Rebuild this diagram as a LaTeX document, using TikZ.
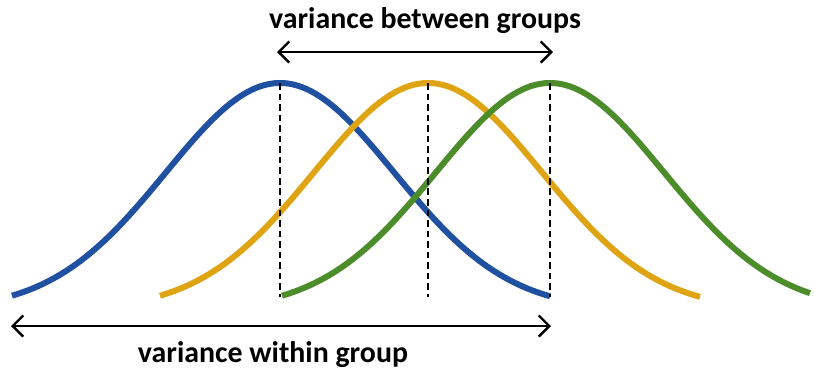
\documentclass[tikz,border=0pt]{standalone}
\usepackage{fontspec}
\setmainfont{Carlito}
\usepackage{xcolor}
\usepackage{tikz}
\usetikzlibrary{arrows.meta, calc}

\definecolor{grpblue}{RGB}{32,80,160}
\definecolor{grpyellow}{RGB}{222,164,20}
\definecolor{grpgreen}{RGB}{76,140,42}

\tikzset{
  bell/.style={line width=3.4pt, line cap=butt},
  peakline/.style={line width=1.6pt, dash pattern=on 3.8pt off 2.2pt},
  spread/.style={line width=1.4pt, {Straight Barb[length=6pt,width=12pt,line width=1.4pt]}-{Straight Barb[length=6pt,width=12pt,line width=1.4pt]}},
  caption/.style={font=\bfseries\fontsize{17}{20}\selectfont, inner sep=0pt}
}

\begin{document}
\begin{tikzpicture}[x=0.02cm, y=-0.02cm]

\useasboundingbox (0,0) rectangle (814,370);

\draw [bell, grpblue] plot [domain=12:550, samples=120] (\x, {310-227*exp(-0.5*((\x-280)/114)^2)});
\draw [bell, grpyellow] plot [domain=160:700, samples=120] (\x, {310-227*exp(-0.5*((\x-428)/114)^2)});
\draw [bell, grpgreen] plot [domain=282:810, samples=120] (\x, {310-227*exp(-0.5*((\x-550)/114)^2)});

\coordinate (peakA) at (280, 83);
\coordinate (peakB) at (428, 83);
\coordinate (peakC) at (550, 83);
\coordinate (footA) at (280, 297);
\coordinate (footB) at (428, 297);
\coordinate (footC) at (550, 297);

\draw [peakline] (peakA) -- (footA);
\draw [peakline] (peakB) -- (footB);
\draw [peakline] (peakC) -- (footC);

\coordinate (betweenL) at (277, 52);
\coordinate (betweenR) at (553, 52);
\coordinate (withinL) at (11, 326);
\coordinate (withinR) at (551, 326);

\draw [spread] (betweenL) -- (betweenR);
\draw [spread] (withinL) -- (withinR);

\node [caption] (betweenlbl) at (425, 21) {variance between groups};
\node [caption] (withinlbl) at (273, 355) {variance within group};

\end{tikzpicture}
\end{document}
